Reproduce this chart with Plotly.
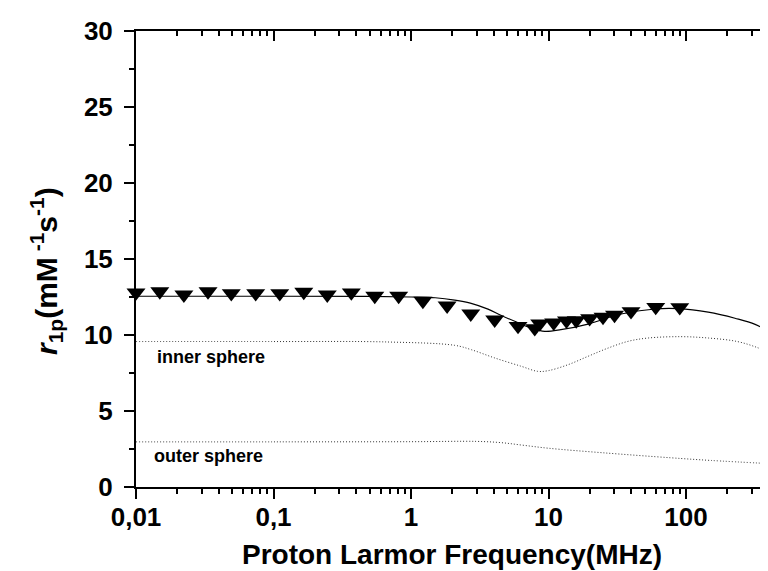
import plotly.graph_objects as go

# ---- data ----
freq_mhz = [0.01, 0.0149, 0.0223, 0.0334, 0.0493, 0.0742, 0.111, 0.166, 0.246, 0.368,
            0.545, 0.813, 1.22, 1.83, 2.72, 4.06, 6.0, 7.94, 8.63, 10.9,
            13.5, 15.9, 19.9, 24.9, 30.2, 39.8, 60.2, 90.0]
r1p_meas = [12.79, 12.87, 12.65, 12.87, 12.74, 12.74, 12.74, 12.83, 12.65, 12.79,
            12.57, 12.57, 12.24, 11.93, 11.40, 11.01, 10.59, 10.44, 10.75, 10.81,
            10.94, 10.96, 11.10, 11.19, 11.32, 11.56, 11.84, 11.82]

fit_freq = [0.01, 0.1, 0.5, 1.0, 1.5, 2.08, 2.7, 3.63, 4.5, 5.68, 7.46, 9.38, 12.3,
            19.4, 33.7, 59.5, 88.0, 145.0, 227.0, 318.0, 443.0]
fit_r1p = [12.55, 12.55, 12.54, 12.5, 12.45, 12.3, 12.1, 11.7, 11.3, 10.9, 10.46, 10.24,
           10.35, 10.72, 11.38, 11.71, 11.73, 11.5, 11.1, 10.7, 10.0]

inner_freq = [0.01, 0.1, 0.68, 2.08, 2.75, 4.06, 6.34, 8.33, 9.9, 13.9, 19.4, 27.1,
              37.8, 52.8, 91.6, 146.0, 233.0, 326.0, 443.0]
inner_r1p = [9.57, 9.57, 9.54, 9.32, 9.03, 8.49, 7.94, 7.61, 7.65, 8.05, 8.6, 9.14,
             9.58, 9.8, 9.89, 9.8, 9.58, 9.19, 8.66]

outer_freq = [0.01, 0.1, 1.0, 3.0, 4.5, 6.5, 10.0, 25.0, 78.0, 150.0, 443.0]
outer_r1p = [2.97, 2.97, 2.98, 3.0, 2.92, 2.75, 2.55, 2.25, 1.92, 1.75, 1.52]

x_tick_vals = [0.01, 0.1, 1, 10, 100]
x_tick_text = ["0,01", "0,1", "1", "10", "100"]
y_tick_vals = [0, 5, 10, 15, 20, 25, 30]
x_range_log = [-2.0, 2.647]
y_range = [0, 30]

x_title = "Proton Larmor Frequency(MHz)"
y_title = "<i>r</i><sub>1p</sub>(mM<sup> -1</sup>s<sup>-1</sup>)"

FONT = "Liberation Sans, Arial, sans-serif"

fig = go.Figure()

fig.add_trace(go.Scatter(x=inner_freq, y=inner_r1p, mode="lines",
                         line=dict(color="#333333", width=1, dash="1px,2px", shape="spline"),
                         showlegend=False, hoverinfo="skip"))
fig.add_trace(go.Scatter(x=outer_freq, y=outer_r1p, mode="lines",
                         line=dict(color="#333333", width=1, dash="1px,2px", shape="spline"),
                         showlegend=False, hoverinfo="skip"))
fig.add_trace(go.Scatter(x=fit_freq, y=fit_r1p, mode="lines",
                         line=dict(color="black", width=1.2, shape="spline"),
                         showlegend=False))
fig.add_trace(go.Scatter(x=freq_mhz, y=r1p_meas, mode="markers",
                         marker=dict(symbol="triangle-down", size=16.5, color="black",
                                     line=dict(width=0)),
                         cliponaxis=False, showlegend=False))
# empty trace to create mirrored top/right axes
fig.add_trace(go.Scatter(x=[], y=[], xaxis="x2", yaxis="y2", showlegend=False,
                         hoverinfo="skip"))

tick_font = dict(family=FONT, size=26, color="black", weight="bold")
title_font = dict(family=FONT, size=28, color="black", weight="bold")
note_font = dict(family=FONT, size=18, color="black", weight="bold")

fig.update_layout(
    width=768, height=571,
    margin=dict(l=128, r=1, t=23, b=92),
    paper_bgcolor="white", plot_bgcolor="white",
    showlegend=False,
    xaxis=dict(type="log", range=x_range_log, tickvals=x_tick_vals, ticktext=x_tick_text,
               ticks="outside", ticklen=10, tickwidth=1.5, tickcolor="black",
               showline=True, linecolor="black", linewidth=2, showgrid=False, zeroline=False,
               tickfont=tick_font, ticklabelstandoff=-4,
               minor=dict(dtick="D1", ticks="outside", ticklen=5, tickwidth=1.5,
                          tickcolor="black", showgrid=False)),
    yaxis=dict(range=y_range, tickvals=y_tick_vals,
               ticks="outside", ticklen=10, tickwidth=1.5, tickcolor="black",
               showline=True, linecolor="black", linewidth=2, showgrid=False, zeroline=False,
               tickfont=tick_font, ticklabelstandoff=6,
               minor=dict(dtick=2.5, ticks="outside", ticklen=5, tickwidth=1.5,
                          tickcolor="black", showgrid=False)),
    xaxis2=dict(type="log", range=x_range_log, overlaying="x", side="top",
                tickvals=x_tick_vals, showticklabels=False,
                ticks="inside", ticklen=10, tickwidth=1.5, tickcolor="black",
                showline=True, linecolor="black", linewidth=2, showgrid=False, zeroline=False,
                minor=dict(dtick="D1", ticks="inside", ticklen=5, tickwidth=1.5,
                           tickcolor="black", showgrid=False)),
    yaxis2=dict(range=y_range, overlaying="y", side="right", tickvals=y_tick_vals,
                showticklabels=False,
                ticks="inside", ticklen=10, tickwidth=1.5, tickcolor="black",
                showline=True, linecolor="black", linewidth=2, showgrid=False, zeroline=False,
                minor=dict(dtick=2.5, ticks="inside", ticklen=5, tickwidth=1.5,
                           tickcolor="black", showgrid=False)),
    annotations=[
        dict(x=0.4945, y=-0.149, xref="paper", yref="paper", text=x_title,
             showarrow=False, xanchor="center", yanchor="middle", font=title_font),
        dict(x=-0.1408, y=0.4737, xref="paper", yref="paper", text=y_title,
             showarrow=False, xanchor="center", yanchor="middle", textangle=-90,
             font=dict(family=FONT, size=30, color="black", weight="bold")),
        dict(x=-1.862, y=8.55, xref="x", yref="y", text="inner sphere", showarrow=False,
             xanchor="left", yanchor="middle", font=note_font),
        dict(x=-1.886, y=2.05, xref="x", yref="y", text="outer sphere", showarrow=False,
             xanchor="left", yanchor="middle", font=note_font),
    ],
)

fig.write_html("out.html")
